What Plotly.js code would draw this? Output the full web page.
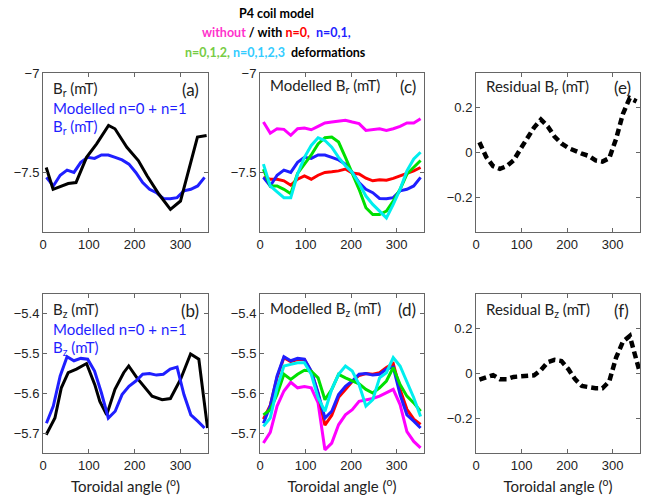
<!DOCTYPE html>
<html><head><meta charset="utf-8">
<script src="https://cdn.plot.ly/plotly-3.0.1.min.js"></script>
<style>html,body{margin:0;padding:0;background:#fff}#chart{width:652px;height:495px}</style>
</head><body><div id="chart"></div>
<script>
// Toroidal angles of the modelled curves (degrees)
const angles = [7.5, 22.5, 37.5, 52.5, 67.5, 82.5, 97.5, 112.5, 127.5, 142.5, 157.5, 172.5,
                187.5, 202.5, 217.5, 232.5, 247.5, 262.5, 277.5, 292.5, 307.5, 322.5, 337.5, 352.5];

// Measured Br (black, panel a)
const measBrAngle = [7, 22, 55, 72, 95, 117, 143, 157, 183, 208, 227, 253, 278, 300, 337, 357];
const measBr = [-7.475, -7.585, -7.556, -7.551, -7.424, -7.356, -7.263, -7.280, -7.373, -7.440,
                -7.517, -7.610, -7.686, -7.644, -7.322, -7.314];

// Modelled Br
const brNone = [-7.246, -7.302, -7.280, -7.283, -7.313, -7.280, -7.276, -7.285, -7.268, -7.251, -7.246, -7.242,
                -7.237, -7.246, -7.254, -7.288, -7.283, -7.280, -7.288, -7.280, -7.268, -7.251, -7.251, -7.229];
const brN0 = [-7.525, -7.534, -7.534, -7.542, -7.564, -7.534, -7.517, -7.534, -7.514, -7.500, -7.497, -7.492,
              -7.483, -7.503, -7.508, -7.529, -7.542, -7.537, -7.539, -7.530, -7.517, -7.505, -7.492, -7.475];
const brN01 = [-7.525, -7.568, -7.514, -7.488, -7.500, -7.449, -7.424, -7.429, -7.412, -7.412, -7.424, -7.437,
               -7.458, -7.500, -7.551, -7.585, -7.602, -7.631, -7.632, -7.627, -7.593, -7.585, -7.568, -7.525];
const brN012 = [-7.483, -7.568, -7.568, -7.585, -7.607, -7.505, -7.458, -7.412, -7.356, -7.325, -7.322, -7.347,
                -7.424, -7.500, -7.585, -7.678, -7.712, -7.712, -7.695, -7.644, -7.585, -7.508, -7.475, -7.440];
const brN0123 = [-7.458, -7.568, -7.598, -7.627, -7.627, -7.508, -7.424, -7.364, -7.325, -7.339, -7.373, -7.424,
                 -7.466, -7.500, -7.556, -7.619, -7.661, -7.695, -7.729, -7.661, -7.585, -7.492, -7.432, -7.398];

// Measured Bz (black, panel b)
const measBzAngle = [7, 26, 40, 55, 73, 95, 113, 124, 139, 157, 176, 187, 205, 238, 260, 278, 300, 322, 340, 359];
const measBz = [-5.704, -5.662, -5.586, -5.548, -5.539, -5.525, -5.578, -5.620, -5.654, -5.590,
                -5.548, -5.531, -5.561, -5.607, -5.616, -5.613, -5.565, -5.501, -5.514, -5.687];

// Modelled Bz
const bzNone = [-5.725, -5.698, -5.632, -5.594, -5.572, -5.586, -5.583, -5.586, -5.624, -5.742, -5.725, -5.679,
                -5.654, -5.641, -5.620, -5.616, -5.613, -5.607, -5.599, -5.590, -5.628, -5.696, -5.721, -5.737];
const bzN0 = [-5.665, -5.630, -5.560, -5.510, -5.520, -5.515, -5.515, -5.545, -5.600, -5.680, -5.655, -5.610,
              -5.590, -5.570, -5.555, -5.550, -5.552, -5.548, -5.535, -5.525, -5.590, -5.640, -5.665, -5.678];
const bzN01 = [-5.675, -5.632, -5.556, -5.508, -5.518, -5.512, -5.514, -5.544, -5.599, -5.662, -5.645, -5.603,
               -5.582, -5.569, -5.552, -5.550, -5.554, -5.552, -5.539, -5.534, -5.603, -5.654, -5.670, -5.687];
const bzN012 = [-5.654, -5.641, -5.603, -5.552, -5.565, -5.552, -5.542, -5.544, -5.561, -5.616, -5.590, -5.552,
                -5.561, -5.569, -5.576, -5.590, -5.599, -5.586, -5.569, -5.535, -5.578, -5.607, -5.624, -5.645];
const bzN0123 = [-5.683, -5.662, -5.586, -5.531, -5.527, -5.523, -5.523, -5.552, -5.611, -5.645, -5.590, -5.552,
                 -5.531, -5.544, -5.578, -5.632, -5.616, -5.561, -5.548, -5.510, -5.531, -5.573, -5.611, -5.658];

// Residuals (measured - modelled n=0+n=1)
const residBrAngle = [7.5, 22.5, 37.5, 52.5, 67.5, 82.5, 97.5, 112.5, 127.5, 142.5, 157.5, 172.5,
                      187.5, 202.5, 217.5, 232.5, 247.5, 262.5, 277.5, 292.5, 307.5, 322.5, 337.5, 352.5];
const residBr = [0.045, -0.020, -0.060, -0.072, -0.060, -0.035, 0.015, 0.060, 0.110, 0.145, 0.115, 0.070,
                 0.040, 0.020, 0.005, -0.005, -0.015, -0.035, -0.040, -0.025, 0.060, 0.170, 0.240, 0.225];
const residBzAngle = [7.5, 22.5, 37.5, 52.5, 67.5, 82.5, 97.5, 112.5, 127.5, 142.5, 157.5, 172.5,
                      187.5, 202.5, 217.5, 232.5, 247.5, 262.5, 277.5, 292.5, 307.5, 322.5, 337.5, 352.5, 359];
const residBz = [-0.027, -0.018, -0.007, -0.025, -0.025, -0.015, -0.012, -0.012, -0.008, 0.015, 0.050, 0.060,
                 0.055, 0.020, -0.025, -0.055, -0.060, -0.065, -0.065, -0.035, 0.070, 0.140, 0.165, 0.060, 0.010];

const xTicks = [0, 100, 200, 300];
const brTicks = [-7.5, -7];
const bzTicks = [-5.7, -5.6, -5.5, -5.4];
const residTicks = [-0.2, 0, 0.2];

const C = {black:'#000000', blue:'#1f1fff', red:'#ff0000', magenta:'#ff00ff', green:'#00e000', cyan:'#00eeee'};

const W = 652, H = 495;
const colsPx = [[43, 208], [260, 424], [476, 640]];
const rowsPx = [[73, 232], [294, 453]];
const xd = c => [colsPx[c][0] / W, colsPx[c][1] / W];
const yd = r => [1 - rowsPx[r][1] / H, 1 - rowsPx[r][0] / H];

function line(x, y, color, axn, extra) {
  return Object.assign({x: x, y: y, mode: 'lines', type: 'scatter', hoverinfo: 'skip',
    line: {color: color, width: 3}, xaxis: 'x' + (axn === 1 ? '' : axn), yaxis: 'y' + (axn === 1 ? '' : axn)}, extra || {});
}
const dashed = {line: {color: '#000', width: 4.5, dash: '7px,4px'}};

const traces = [
  line(angles, brN01, C.blue, 1), line(measBrAngle, measBr, C.black, 1),
  line(angles, brNone, C.magenta, 2), line(angles, brN0, C.red, 2), line(angles, brN01, C.blue, 2),
  line(angles, brN012, C.green, 2), line(angles, brN0123, C.cyan, 2),
  line(residBrAngle, residBr, '#000', 3, dashed),
  line(measBzAngle, measBz, C.black, 4), line(angles, bzN01, C.blue, 4),
  line(angles, bzNone, C.magenta, 5), line(angles, bzN0, C.red, 5), line(angles, bzN01, C.blue, 5),
  line(angles, bzN012, C.green, 5), line(angles, bzN0123, C.cyan, 5),
  line(residBzAngle, residBz, '#000', 6, dashed)
];

const tickFont = {family: 'Liberation Sans, Arial, sans-serif', size: 13, color: '#222'};
function ax(extra) {
  return Object.assign({showline: true, mirror: 'ticks', linecolor: '#666', linewidth: 1,
    ticks: 'inside', ticklen: 4, tickcolor: '#666', showgrid: false, zeroline: false,
    tickfont: tickFont, fixedrange: true}, extra);
}
const xTitle = {text: 'Toroidal angle (<sup>o</sup>)', font: {family: 'Lato, sans-serif', size: 15, color: '#222'}};

const layout = {
  width: W, height: H, margin: {l: 0, r: 0, t: 0, b: 0}, showlegend: false,
  paper_bgcolor: '#fff', plot_bgcolor: '#fff',
  xaxis:  ax({domain: xd(0), anchor: 'y',  range: [0, 360], tickvals: xTicks}),
  yaxis:  ax({domain: yd(0), anchor: 'x',  range: [-7.8, -6.999], tickvals: brTicks}),
  xaxis2: ax({domain: xd(1), anchor: 'y2', range: [0, 360], tickvals: xTicks}),
  yaxis2: ax({domain: yd(0), anchor: 'x2', range: [-7.8, -6.999], tickvals: brTicks}),
  xaxis3: ax({domain: xd(2), anchor: 'y3', range: [0, 360], tickvals: xTicks}),
  yaxis3: ax({domain: yd(0), anchor: 'x3', range: [-0.35, 0.35], tickvals: residTicks}),
  xaxis4: ax({domain: xd(0), anchor: 'y4', range: [0, 360], tickvals: xTicks, title: xTitle}),
  yaxis4: ax({domain: yd(1), anchor: 'x4', range: [-5.75, -5.35], tickvals: bzTicks}),
  xaxis5: ax({domain: xd(1), anchor: 'y5', range: [0, 360], tickvals: xTicks, title: xTitle}),
  yaxis5: ax({domain: yd(1), anchor: 'x5', range: [-5.75, -5.35], tickvals: bzTicks}),
  xaxis6: ax({domain: xd(2), anchor: 'y6', range: [0, 360], tickvals: xTicks, title: xTitle}),
  yaxis6: ax({domain: yd(1), anchor: 'x6', range: [-0.35, 0.35], tickvals: residTicks}),
  annotations: []
};

function ann(text, px, py, color, anchor, size, bold) {
  layout.annotations.push({text: bold ? '<b>' + text + '</b>' : text, x: px / W, y: 1 - py / H,
    xref: 'paper', yref: 'paper', xanchor: anchor || 'left', yanchor: 'middle', showarrow: false,
    font: {family: 'Lato, sans-serif', size: size || 15, color: color || '#222'}});
}
// Figure title (three lines)
ann('P4 coil model', 276, 14, '#000', 'center', 12.5, true);
ann('<span style="color:#ff33cc">without</span> / with <span style="color:#ff0000">n=0,</span>  <span style="color:#1f1fff">n=0,1,</span>',
    276, 33, '#000', 'center', 12.5, true);
ann('<span style="color:#77cc44">n=0,1,2,</span> <span style="color:#33ccff">n=0,1,2,3</span>  deformations',
    275, 52, '#000', 'center', 12.5, true);
// Panel labels
ann('B<sub>r</sub> (mT)', 51, 89);
ann('Modelled n=0 + n=1', 51, 108, C.blue);
ann('B<sub>r</sub> (mT)', 51, 127, C.blue);
ann('(a)', 201, 89, '#222', 'right', 17);
ann('Modelled B<sub>r</sub> (mT)', 268, 86);
ann('(c)', 418, 86, '#222', 'right', 17);
ann('Residual B<sub>r</sub> (mT)', 484, 87);
ann('(e)', 633, 87, '#222', 'right', 17);
ann('B<sub>z</sub> (mT)', 51, 310);
ann('Modelled n=0 + n=1', 51, 329, C.blue);
ann('B<sub>z</sub> (mT)', 51, 348, C.blue);
ann('(b)', 201, 310, '#222', 'right', 17);
ann('Modelled B<sub>z</sub> (mT)', 268, 309);
ann('(d)', 418, 309, '#222', 'right', 17);
ann('Residual B<sub>z</sub> (mT)', 484, 310);
ann('(f)', 631, 310, '#222', 'right', 17);

Plotly.newPlot('chart', traces, layout, {staticPlot: true, displayModeBar: false});
</script></body></html>
